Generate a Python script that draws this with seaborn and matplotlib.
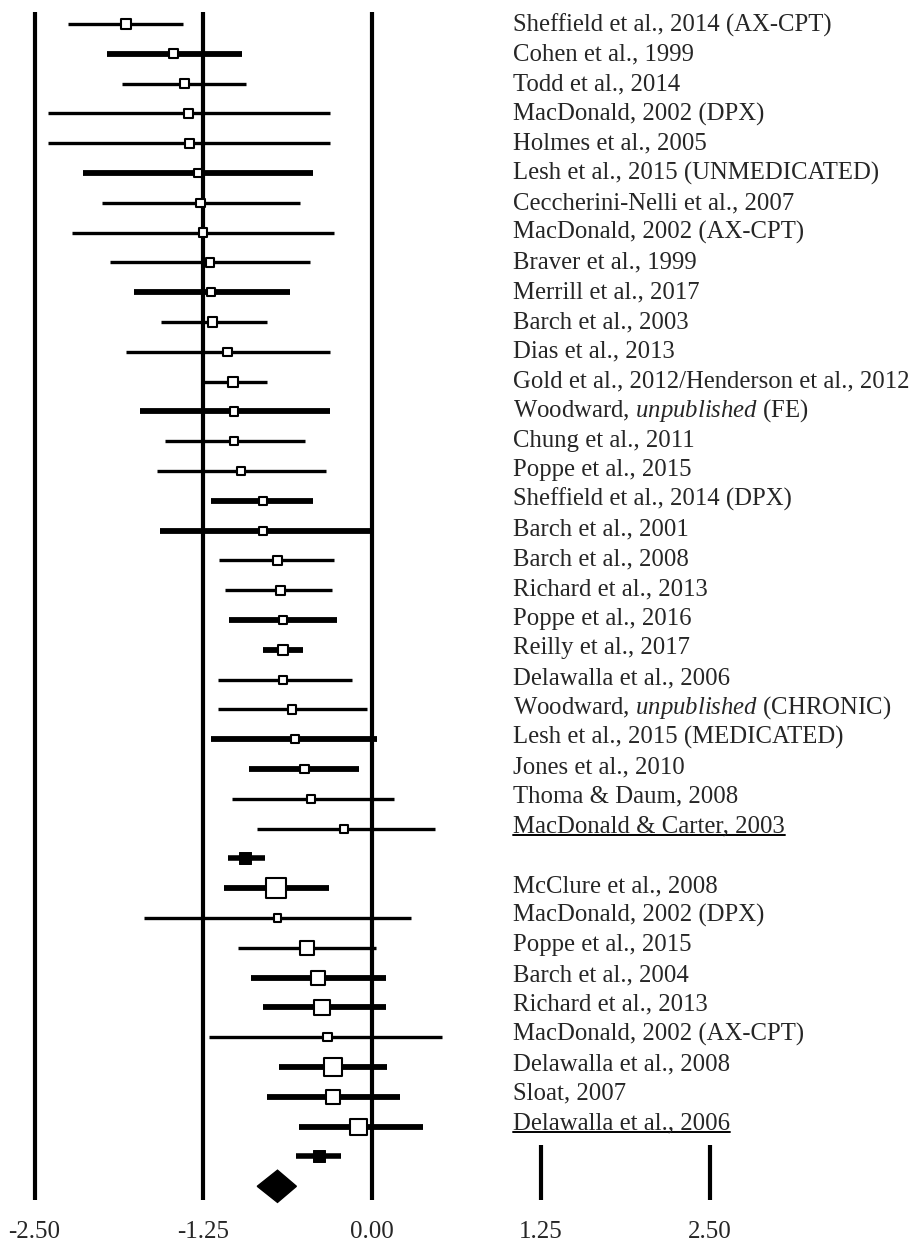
import numpy as np
import pandas as pd
import seaborn as sns
import matplotlib.pyplot as plt

# group 1 studies (top block)
studies_a = [
    "Sheffield et al., 2014 (AX-CPT)", "Cohen et al., 1999", "Todd et al., 2014",
    "MacDonald, 2002 (DPX)", "Holmes et al., 2005", "Lesh et al., 2015 (UNMEDICATED)",
    "Ceccherini-Nelli et al., 2007", "MacDonald, 2002 (AX-CPT)", "Braver et al., 1999",
    "Merrill et al., 2017", "Barch et al., 2003", "Dias et al., 2013",
    "Gold et al., 2012/Henderson et al., 2012", r"Woodward, $\mathit{unpublished}$ (FE)",
    "Chung et al., 2011", "Poppe et al., 2015", "Sheffield et al., 2014 (DPX)",
    "Barch et al., 2001", "Barch et al., 2008", "Richard et al., 2013",
    "Poppe et al., 2016", "Reilly et al., 2017", "Delawalla et al., 2006",
    r"Woodward, $\mathit{unpublished}$ (CHRONIC)", "Lesh et al., 2015 (MEDICATED)",
    "Jones et al., 2010", "Thoma & Daum, 2008", "MacDonald & Carter, 2003",
]
est_a = [-1.82, -1.47, -1.39, -1.36, -1.35, -1.29, -1.27, -1.25, -1.20, -1.19,
         -1.18, -1.07, -1.03, -1.02, -1.02, -0.97, -0.81, -0.81, -0.70, -0.68,
         -0.66, -0.66, -0.66, -0.59, -0.57, -0.50, -0.45, -0.21]
lo_a = [-2.25, -1.96, -1.85, -2.40, -2.40, -2.14, -2.00, -2.22, -1.94, -1.76,
        -1.56, -1.82, -1.27, -1.72, -1.53, -1.59, -1.19, -1.57, -1.13, -1.09,
        -1.06, -0.81, -1.14, -1.14, -1.19, -0.91, -1.04, -0.85]
hi_a = [-1.40, -0.96, -0.93, -0.31, -0.31, -0.44, -0.53, -0.28, -0.46, -0.61,
        -0.78, -0.31, -0.78, -0.31, -0.50, -0.34, -0.44, 0.00, -0.28, -0.30,
        -0.26, -0.51, -0.15, -0.04, 0.04, -0.10, 0.16, 0.47]
weight_a = [3.4, 2.8, 2.8, 2.3, 2.5, 2.3, 2.3, 2.3, 2.3, 2.3, 3.0, 2.3, 3.4, 2.3,
            2.3, 2.3, 2.3, 2.3, 2.3, 2.6, 2.6, 3.4, 2.3, 2.3, 2.3, 2.3, 2.3, 2.3]
heavy_a = [0, 1, 0, 0, 0, 1, 0, 0, 0, 1, 0, 0, 0, 1, 0, 0, 1, 1, 0, 0,
           1, 1, 0, 0, 1, 1, 0, 0]

# group 2 studies (lower block)
studies_b = [
    "McClure et al., 2008", "MacDonald, 2002 (DPX)", "Poppe et al., 2015",
    "Barch et al., 2004", "Richard et al., 2013", "MacDonald, 2002 (AX-CPT)",
    "Delawalla et al., 2008", "Sloat, 2007", "Delawalla et al., 2006",
]
est_b = [-0.71, -0.70, -0.48, -0.40, -0.37, -0.33, -0.29, -0.29, -0.10]
lo_b = [-1.10, -1.69, -0.99, -0.90, -0.81, -1.21, -0.69, -0.78, -0.54]
hi_b = [-0.32, 0.29, 0.03, 0.10, 0.10, 0.52, 0.11, 0.21, 0.38]
weight_b = [13.5, 1.8, 6.5, 6.8, 8.0, 2.3, 11.5, 6.8, 9.0]
heavy_b = [1, 0, 0, 1, 1, 0, 1, 1, 1]

# pooled estimates: (estimate, lower, upper)
pooled_a = (-0.94, -1.07, -0.79)
pooled_b = (-0.39, -0.56, -0.23)
overall = (-0.70, -0.85, -0.56)

xticks = [-2.50, -1.25, 0.00, 1.25, 2.50]

n_a, n_b = len(studies_a), len(studies_b)
rows_a = np.arange(n_a)
row_pa = n_a
rows_b = np.arange(n_b) + n_a + 1
row_pb = n_a + n_b + 1
row_all = row_pb + 1

df = pd.DataFrame({
    "label": studies_a + studies_b,
    "est": est_a + est_b,
    "lo": lo_a + lo_b,
    "hi": hi_a + hi_b,
    "weight": weight_a + weight_b,
    "heavy": heavy_a + heavy_b,
    "row": np.concatenate([rows_a, rows_b]),
})
pooled = pd.DataFrame({
    "est": [pooled_a[0], pooled_b[0]],
    "lo": [pooled_a[1], pooled_b[1]],
    "hi": [pooled_a[2], pooled_b[2]],
    "row": [row_pa, row_pb],
})

sns.set_style("white")
plt.rcParams["font.family"] = ["Liberation Serif", "DejaVu Serif"]
plt.rcParams["mathtext.fontset"] = "custom"
plt.rcParams["mathtext.rm"] = "Liberation Serif"
plt.rcParams["mathtext.it"] = "Liberation Serif:italic"

fig = plt.figure(figsize=(9.13, 12.41), dpi=100)
ax = fig.add_axes([0, 41 / 1241, 1, 1200 / 1241])
ax.set_xlim(-372 / 135, (913 - 372) / 135)
ax.set_ylim(39.46, -0.805)

# reference lines
for t in xticks:
    top = -0.40 if t <= 0 else 37.62
    ax.vlines(t, top, 39.46, color="black", lw=3.0, zorder=1)

# confidence intervals
for heavy, sub in df.groupby("heavy"):
    ax.hlines(sub["row"], sub["lo"], sub["hi"], color="black",
              lw=4.2 if heavy else 2.4, zorder=2)
ax.hlines(pooled["row"], pooled["lo"], pooled["hi"], color="black", lw=4.0, zorder=2)

# study markers sized by weight
sns.scatterplot(data=df, x="est", y="row", size="weight", sizes=(0, 230),
                size_norm=(0, 15), marker="s", color="white", edgecolor="black",
                linewidth=1.5, legend=False, zorder=3, ax=ax)
sns.scatterplot(data=pooled, x="est", y="row", marker="s", s=75, color="black",
                edgecolor="black", legend=False, zorder=3, ax=ax)

# overall diamond
e, lo, hi = overall
h = 0.54
ax.fill([lo, e, hi, e], [row_all, row_all - h, row_all, row_all + h],
        color="black", zorder=3, clip_on=False)

# study labels
label_x = (513 - 372) / 135
fig.canvas.draw()
renderer = fig.canvas.get_renderer()
last_rows = {rows_a[-1], rows_b[-1]}
for _, r in df.iterrows():
    yb = r["row"] + 0.24 - 0.004 * r["row"]
    txt = ax.text(label_x, yb, r["label"], fontsize=17.8, va="baseline", ha="left")
    if r["row"] in last_rows:
        bb = txt.get_window_extent(renderer=renderer)
        x0, _ = ax.transData.inverted().transform((bb.x0, 0))
        x1, _ = ax.transData.inverted().transform((bb.x1, 0))
        ax.plot([x0, x1], [yb + 0.07, yb + 0.07], color="black", lw=1.4)

ax.set_xticks(xticks)
ax.set_xticklabels([f"{t:.2f}" for t in xticks], fontsize=18)
ax.tick_params(axis="x", length=0, pad=15)
ax.set_yticks([])
ax.set_xlabel("")
ax.set_ylabel("")
sns.despine(ax=ax, left=True, bottom=True)

fig.savefig("out.png", dpi=100)
